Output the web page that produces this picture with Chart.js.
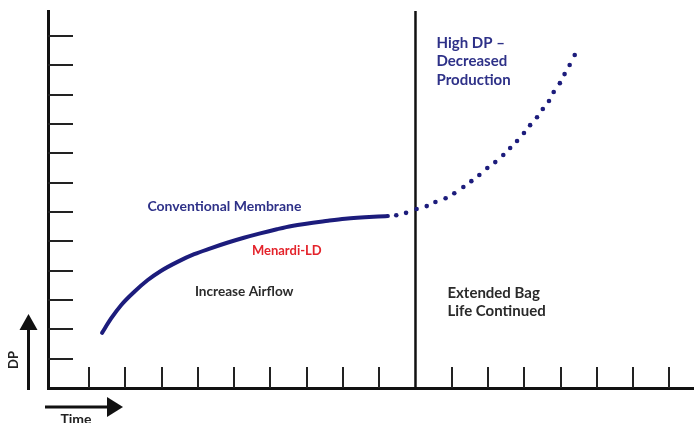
<!DOCTYPE html>
<html lang="en">
<head>
    <meta charset="UTF-8">
    <title>DP over Time</title>
    <script src="https://cdn.jsdelivr.net/npm/chart.js"></script>
    <style>
        html, body { margin: 0; padding: 0; background: #fff; }
        #wrap { width: 697px; height: 423px; }
    </style>
</head>
<body>
    <div id="wrap"><canvas id="myChart"></canvas></div>
    <script>
        // tick positions on each axis
        const xTicks = [1, 2, 3, 4, 5, 6, 7, 8, 9, 11, 12, 13, 14, 15, 16, 17];
        const yTicks = [1, 2, 3, 4, 5, 6, 7, 8, 9, 10, 11, 12];
        const changeX = 10; // vertical divider

        // solid curve (Menardi-LD / conventional membrane)
        const solidX = [1.36, 1.61, 1.89, 2.25, 2.62, 2.98, 3.44, 3.90, 4.35, 4.81, 5.27, 5.72, 6.18, 6.59, 7.59, 8.06, 9.24];
        const solidY = [1.88, 2.37, 2.83, 3.28, 3.68, 3.99, 4.30, 4.56, 4.76, 4.95, 5.12, 5.27, 5.41, 5.52, 5.70, 5.77, 5.86];

        // dotted continuation (high DP)
        const dotX = [9.47, 9.74, 10.03, 10.31, 10.55, 10.83, 11.07, 11.32, 11.54, 11.76, 11.98, 12.20, 12.42,
                      12.61, 12.80, 12.99, 13.16, 13.35, 13.51, 13.68, 13.81, 13.98, 14.11, 14.25, 14.39];
        const dotY = [5.89, 5.97, 6.10, 6.20, 6.34, 6.47, 6.64, 6.85, 7.05, 7.26, 7.50, 7.70, 7.94,
                      8.18, 8.42, 8.69, 8.96, 9.23, 9.51, 9.78, 10.09, 10.39, 10.70, 11.01, 11.35];

        const NAVY = '#1c1c7c';
        const TEXT_NAVY = '#2e3188';
        const FAM = 'Lato, "Open Sans", sans-serif';

        // text notes placed in data coords
        const notes = [
            { lines: ['High DP \u2013', 'Decreased', 'Production'], x: 10.58, y: 11.76, color: TEXT_NAVY, size: 15 },
            { lines: ['Conventional Membrane'], x: 2.61, y: 6.20, color: TEXT_NAVY, size: 14 },
            { lines: ['Menardi-LD'], x: 5.49, y: 4.67, color: '#e4232b', size: 13 },
            { lines: ['Increase Airflow'], x: 3.92, y: 3.27, color: '#2a2a2a', size: 13.6 },
            { lines: ['Extended Bag', 'Life Continued'], x: 10.88, y: 3.24, color: '#2a2a2a', size: 15 }
        ];

        const decorPlugin = {
            id: 'decor',
            afterDraw(chart) {
                const ctx = chart.ctx;
                const xs = chart.scales.x, ys = chart.scales.y;
                const area = chart.chartArea;
                ctx.save();
                // inner tick marks
                ctx.strokeStyle = '#222';
                ctx.lineWidth = 2;
                ctx.beginPath();
                xTicks.forEach(v => {
                    const px = Math.round(xs.getPixelForValue(v));
                    ctx.moveTo(px, area.bottom);
                    ctx.lineTo(px, area.bottom - 21);
                });
                yTicks.forEach(v => {
                    const py = Math.round(ys.getPixelForValue(v));
                    ctx.moveTo(area.left, py);
                    ctx.lineTo(area.left + 25, py);
                });
                ctx.stroke();

                // notes
                ctx.textBaseline = 'middle';
                ctx.textAlign = 'left';
                notes.forEach(n => {
                    ctx.font = 'bold ' + n.size + 'px ' + FAM;
                    ctx.fillStyle = n.color;
                    const px = xs.getPixelForValue(n.x);
                    const py = ys.getPixelForValue(n.y);
                    n.lines.forEach((t, i) => ctx.fillText(t, px, py + i * 18.5));
                });

                // DP arrow
                ctx.fillStyle = '#111';
                ctx.strokeStyle = '#111';
                ctx.lineWidth = 3;
                ctx.beginPath();
                ctx.moveTo(28.5, 390);
                ctx.lineTo(28.5, 326);
                ctx.stroke();
                ctx.beginPath();
                ctx.moveTo(28.5, 314);
                ctx.lineTo(37.5, 330);
                ctx.lineTo(19.5, 330);
                ctx.closePath();
                ctx.fill();

                // Time arrow
                ctx.beginPath();
                ctx.moveTo(45, 407);
                ctx.lineTo(112, 407);
                ctx.stroke();
                ctx.beginPath();
                ctx.moveTo(123, 407);
                ctx.lineTo(107, 397);
                ctx.lineTo(107, 417);
                ctx.closePath();
                ctx.fill();

                ctx.fillStyle = '#222';
                ctx.textAlign = 'center';
                ctx.textBaseline = 'top';
                ctx.font = 'bold 14px ' + FAM;
                ctx.fillText('Time', 76, 412);
                ctx.save();
                ctx.translate(14, 360);
                ctx.rotate(-Math.PI / 2);
                ctx.textBaseline = 'middle';
                ctx.font = 'bold 13px ' + FAM;
                ctx.fillText('DP', 0, 0);
                ctx.restore();
                ctx.restore();
            }
        };

        const ctx = document.getElementById('myChart').getContext('2d');
        new Chart(ctx, {
            type: 'scatter',
            data: {
                datasets: [
                    {
                        data: solidX.map((x, i) => ({ x: x, y: solidY[i] })),
                        showLine: true,
                        borderColor: NAVY,
                        borderWidth: 4,
                        pointRadius: 0,
                        cubicInterpolationMode: 'monotone',
                        borderCapStyle: 'round'
                    },
                    {
                        data: dotX.map((x, i) => ({ x: x, y: dotY[i] })),
                        showLine: false,
                        backgroundColor: NAVY,
                        borderWidth: 0,
                        pointRadius: 2.3
                    },
                    {
                        data: [{ x: changeX, y: 0 }, { x: changeX, y: 12.85 }],
                        showLine: true,
                        borderColor: '#111',
                        borderWidth: 2.5,
                        pointRadius: 0
                    }
                ]
            },
            options: {
                responsive: true,
                maintainAspectRatio: false,
                animation: false,
                layout: { padding: { left: 48, top: 11, right: 0, bottom: 35 } },
                plugins: { legend: { display: false }, tooltip: { enabled: false } },
                scales: {
                    x: {
                        type: 'linear', min: -0.13, max: 17.65,
                        ticks: { display: false },
                        grid: { display: false, drawTicks: false },
                        border: { display: true, color: '#111', width: 3 }
                    },
                    y: {
                        type: 'linear', min: 0, max: 12.85,
                        ticks: { display: false },
                        grid: { display: false, drawTicks: false },
                        border: { display: true, color: '#111', width: 3 }
                    }
                }
            },
            plugins: [decorPlugin]
        });
    </script>
</body>
</html>
